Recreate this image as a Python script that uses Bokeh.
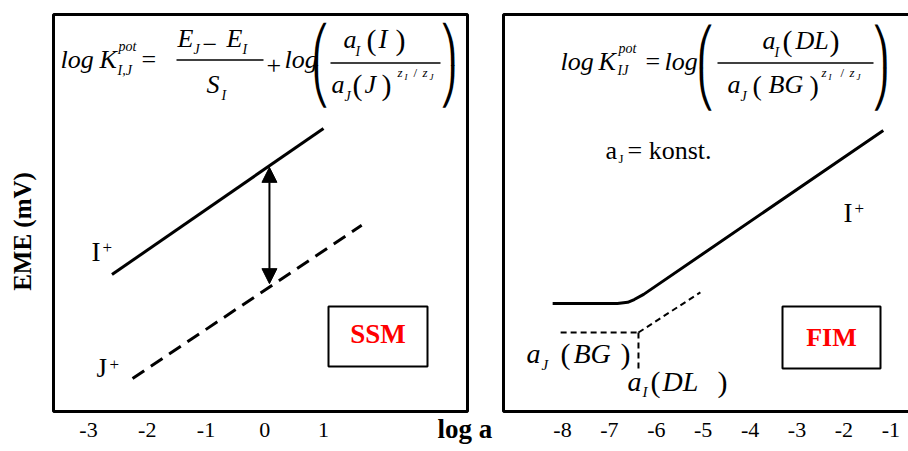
import math
from bokeh.plotting import figure
from bokeh.layouts import row
from bokeh.models import (Range1d, FixedTicker, LinearAxis, Label, Arrow,
                          NormalHead, BoxAnnotation)
from bokeh.embed import file_html
from bokeh.resources import INLINE

SERIF = "Liberation Serif"

# ---------------- data ----------------
ssm_ticks = [-3, -2, -1, 0, 1]
fim_ticks = [-8, -7, -6, -5, -4, -3, -2, -1]

# SSM panel (x: log a, y: EME in arbitrary units 0..100)
ssm_I_loga = [-2.6, 1.0]
ssm_I_eme = [34.5, 71.3]
ssm_J_loga = [-2.25, 1.65]
ssm_J_eme = [8.3, 46.9]
ssm_arrow_loga = [0.08, 0.08]
ssm_arrow_eme = [32.2, 61.5]

# FIM panel
fim_I_loga = [-8.21, -6.83, -6.61, -6.47, -6.27, -1.16]
fim_I_eme = [27.2, 27.2, 27.5, 28.2, 29.5, 70.8]
fim_extrap_loga = [-6.38, -5.06]
fim_extrap_eme = [19.9, 30.0]
fim_bg_loga = [-8.04, -6.38]
fim_bg_eme = [19.9, 19.9]
fim_dl_loga = [-6.38, -6.38]
fim_dl_eme = [19.9, 9.8]

# ---------------- layout ----------------
W, H = 908, 451
W1 = 500
TOP, BOTTOM = 14, 411
DESC = 0.22   # text box bottom below baseline, in em


def fx1(px):
    return -3 + (px - 88) / 58.75


def fx2(px):
    return -8 + (px - 562) / 46.9


def fy(py):
    return (BOTTOM - py) / (BOTTOM - TOP) * 100


def put(p, fx, px, py, text, size, style="normal", color="black",
        align="left"):
    # py is the desired text baseline (page pixels)
    anchor = py + DESC * size
    p.add_layout(Label(x=fx(px), y=fy(anchor), text=text, text_font=SERIF,
                       text_font_size=f"{size}px", text_font_style=style,
                       text_color=color, text_align=align,
                       text_baseline="bottom"))


def big(p, fx, px, top, bottom, left=True):
    # tall parenthesis built from the upper and lower hook pieces
    half = (bottom - top) / 2
    size = half / 1.164
    up, low = ("\u239b", "\u239d") if left else ("\u239e", "\u23a0")
    for t, b in ((up, top + half), (low, bottom)):
        p.add_layout(Label(x=fx(px), y=fy(b), text=t, text_font="DejaVu Sans",
                           text_font_size=f"{size:.1f}px", text_color="black",
                           text_align="center", text_baseline="bottom"))


def bar(p, fx, x0, x1, yc, t=1.5):
    p.add_layout(BoxAnnotation(left=fx(x0), right=fx(x1), top=fy(yc - t / 2),
                               bottom=fy(yc + t / 2), fill_color="black",
                               fill_alpha=1, line_color=None))


def tick_axis(ticks):
    return LinearAxis(fixed_location=fy(BOTTOM), ticker=FixedTicker(ticks=ticks),
                      major_label_overrides={t: str(t) for t in ticks},
                      axis_line_color=None, major_tick_line_color=None,
                      minor_tick_line_color=None, major_tick_out=0,
                      minor_tick_out=0, major_label_standoff=11,
                      major_label_text_font=SERIF,
                      major_label_text_font_size="22px",
                      major_label_text_color="black")


def make_fig(width, xr):
    p = figure(width=width, height=H, x_range=xr,
               y_range=Range1d(fy(H), fy(0)), output_backend="svg",
               toolbar_location=None, x_axis_location=None,
               y_axis_location=None, min_border=0)
    p.min_border_left = 0
    p.min_border_right = 0
    p.min_border_top = 0
    p.min_border_bottom = 0
    p.outline_line_color = None
    p.background_fill_color = "white"
    p.border_fill_color = "white"
    p.xgrid.visible = False
    p.ygrid.visible = False
    return p


# ---------------- left panel (SSM) ----------------
p1 = make_fig(W1, Range1d(fx1(0), fx1(W1)))
p1.add_layout(tick_axis(ssm_ticks), "below")
p1.add_layout(BoxAnnotation(left=fx1(53), right=fx1(467), top=fy(TOP),
                            bottom=fy(BOTTOM), fill_color=None,
                            line_color="black", line_width=3, line_alpha=1))

p1.line(ssm_I_loga, ssm_I_eme, line_width=3, line_color="black")
p1.line(ssm_J_loga, ssm_J_eme, line_width=3, line_color="black",
        line_dash="14 8")
p1.add_layout(Arrow(start=NormalHead(size=15, fill_color="black", line_color="black"),
                    end=NormalHead(size=15, fill_color="black", line_color="black"),
                    x_start=ssm_arrow_loga[0], y_start=ssm_arrow_eme[0],
                    x_end=ssm_arrow_loga[1], y_end=ssm_arrow_eme[1],
                    line_width=2, line_color="black"))

# formula 1
f1 = [
    ("log", 60, 68, 26, "italic"), ("K", 99, 68, 26, "italic"),
    ("pot", 118, 50, 14, "italic"), ("I,J", 117, 74, 14, "italic"),
    ("=", 141, 68, 26, "normal"),
    ("E", 177, 47, 26, "italic"), ("J", 193, 53, 14, "italic"),
    ("\u2212", 202, 47, 26, "normal"),
    ("E", 226, 47, 26, "italic"), ("I", 242, 53, 14, "italic"),
    ("S", 206, 93, 26, "italic"), ("I", 221, 99, 14, "italic"),
    ("+", 266, 68, 26, "normal"), ("log", 284, 68, 26, "italic"),
    ("a", 343, 48, 26, "italic"), ("I", 355, 55, 14, "italic"),
    ("(", 366, 49, 30, "normal"), ("I", 378, 48, 27, "italic"),
    (")", 395, 49, 30, "normal"),
    ("a", 331, 93, 26, "italic"), ("J", 344, 100, 14, "italic"),
    ("(", 352, 94, 30, "normal"), ("J", 364, 93, 26, "italic"),
    (")", 381, 94, 30, "normal"),
    ("z", 397, 77, 13, "italic"), ("I", 404, 80, 9, "italic"),
    ("/", 413, 77, 13, "normal"), ("z", 422, 77, 13, "italic"),
    ("J", 429, 80, 9, "italic"),
]
for t, x, y, s, st in f1:
    put(p1, fx1, x, y, t, s, st)
big(p1, fx1, 320, 23, 107, left=True)
big(p1, fx1, 448, 23, 107, left=False)
bar(p1, fx1, 176, 263, 59.5)
bar(p1, fx1, 330, 440, 62.5)

put(p1, fx1, 91, 261, "I", 27)
put(p1, fx1, 102, 249, "+", 17)
put(p1, fx1, 96, 377, "J", 27)
put(p1, fx1, 109, 366, "+", 17)

p1.add_layout(BoxAnnotation(left=fx1(328), right=fx1(427), top=fy(306),
                            bottom=fy(366), fill_color="white", fill_alpha=1,
                            line_color="black", line_width=2, line_alpha=1))
put(p1, fx1, 377.5, 343, "SSM", 27, "bold", color="#ff0000", align="center")

put(p1, fx1, 437, 438, "log a", 27, "bold")
p1.add_layout(Label(x=fx1(35), y=fy(231), text="EME (mV)", text_font=SERIF,
                    text_font_size="25px", text_font_style="bold",
                    text_color="black", text_align="center",
                    text_baseline="bottom", angle=math.pi / 2))

# ---------------- right panel (FIM) ----------------
p2 = make_fig(W - W1, Range1d(fx2(W1), fx2(W)))
p2.add_layout(tick_axis(fim_ticks), "below")
p2.add_layout(BoxAnnotation(left=fx2(503), right=fx2(W + 40), top=fy(TOP),
                            bottom=fy(BOTTOM), fill_color=None,
                            line_color="black", line_width=3, line_alpha=1))

p2.line(fim_I_loga, fim_I_eme, line_width=3, line_color="black")
p2.line(fim_extrap_loga, fim_extrap_eme, line_width=2, line_color="black",
        line_dash="6 4")
p2.line(fim_bg_loga, fim_bg_eme, line_width=2, line_color="black",
        line_dash="6 4")
p2.line(fim_dl_loga, fim_dl_eme, line_width=2, line_color="black",
        line_dash="6 4")

f2 = [
    ("log", 560, 70, 26, "italic"), ("K", 598, 70, 26, "italic"),
    ("pot", 618, 52, 14, "italic"), ("IJ", 617, 74, 14, "italic"),
    ("=", 645, 70, 26, "normal"), ("log", 664, 70, 26, "italic"),
    ("a", 762, 49, 26, "italic"), ("I", 774, 56, 14, "italic"),
    ("(", 782, 50, 30, "normal"), ("DL", 795, 49, 26, "italic"),
    (")", 829, 50, 30, "normal"),
    ("a", 727, 93, 26, "italic"), ("J", 740, 100, 14, "italic"),
    ("(", 752, 94, 28, "normal"), ("BG", 768, 93, 26, "italic"),
    (")", 809, 94, 28, "normal"),
    ("z", 821, 77, 13, "italic"), ("I", 828, 80, 9, "italic"),
    ("/", 840, 77, 13, "normal"), ("z", 849, 77, 13, "italic"),
    ("J", 856, 80, 9, "italic"),
]
for t, x, y, s, st in f2:
    put(p2, fx2, x, y, t, s, st)
big(p2, fx2, 705, 25, 110, left=True)
big(p2, fx2, 880, 25, 110, left=False)
bar(p2, fx2, 717, 873, 62.5)

put(p2, fx2, 605, 159, "a", 26)
put(p2, fx2, 618, 163, "J", 13)
put(p2, fx2, 627, 159, "= konst.", 26)

put(p2, fx2, 843, 222, "I", 27)
put(p2, fx2, 854, 210, "+", 17)

put(p2, fx2, 526, 362, "a", 28, "italic")
put(p2, fx2, 541, 369, "J", 15, "italic")
put(p2, fx2, 560, 363, "(", 30)
put(p2, fx2, 573, 362, "BG", 28, "italic")
put(p2, fx2, 620, 363, ")", 30)

put(p2, fx2, 627, 390, "a", 28, "italic")
put(p2, fx2, 642, 396, "I", 15, "italic")
put(p2, fx2, 650, 391, "(", 30)
put(p2, fx2, 662, 390, "DL", 28, "italic")
put(p2, fx2, 717, 391, ")", 30)

p2.add_layout(BoxAnnotation(left=fx2(782), right=fx2(880), top=fy(306),
                            bottom=fy(368), fill_color="white", fill_alpha=1,
                            line_color="black", line_width=2, line_alpha=1))
put(p2, fx2, 831, 346, "FIM", 26, "bold", color="#ff0000", align="center")

layout = row(p1, p2)
open("out.html", "w").write(file_html(layout, INLINE))
